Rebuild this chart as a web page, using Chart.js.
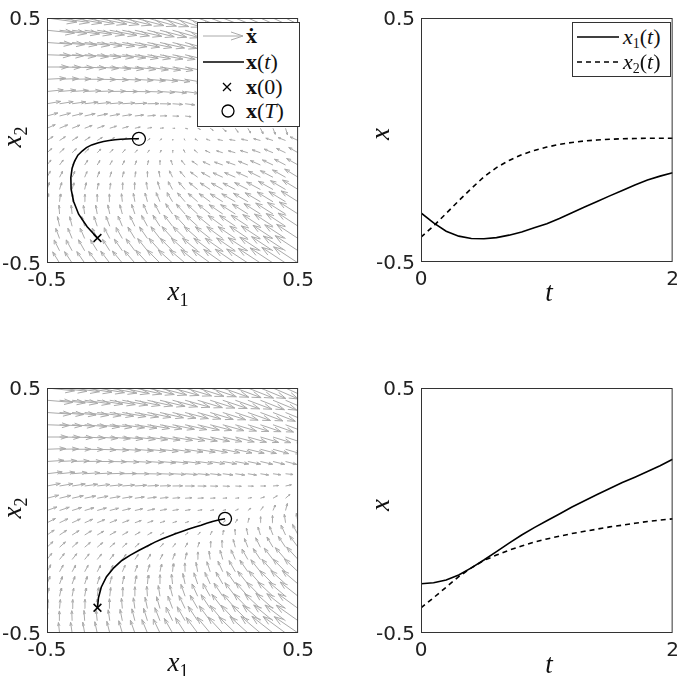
<!DOCTYPE html>
<html>
<head>
<meta charset="utf-8">
<script src="https://cdn.jsdelivr.net/npm/chart.js@4/dist/chart.umd.min.js"></script>
<style>
  body { margin: 0; background: #fff; }
  #fig { position: relative; width: 685px; height: 676px; overflow: hidden; background: #fff; }
  canvas { position: absolute; }
  .lab { position: absolute; font-family: "Liberation Serif", "DejaVu Serif", serif; font-size: 27px; color: #111; transform: translate(-50%, -50%); white-space: nowrap; line-height: 1; }
  .lab i { font-style: italic; }
  .lab sub { font-size: 18px; vertical-align: -6px; font-style: normal; }
  .rot { transform: translate(-50%, -50%) rotate(-90deg); }
  .legend { position: absolute; background: #fff; border: 1px solid #333; font-family: "Liberation Serif", "DejaVu Serif", serif; font-size: 22px; color: #111; }
  .legend .row { position: absolute; left: 0; height: 24px; line-height: 24px; white-space: nowrap; }
  .legend svg { position: absolute; top: 0; }
  .legend .txt { position: absolute; top: 0; }
  .legend sub { font-size: 14px; vertical-align: -4px; }
</style>
</head>
<body>
<div id="fig">
  <canvas id="cA" width="320" height="300" style="left:0;top:0"></canvas>
  <canvas id="cB" width="345" height="300" style="left:340px;top:0"></canvas>
  <canvas id="cC" width="320" height="306" style="left:0;top:370px"></canvas>
  <canvas id="cD" width="345" height="306" style="left:340px;top:370px"></canvas>

  <div class="lab" style="left:178px;top:293px"><i>x</i><sub>1</sub></div>
  <div class="lab rot" style="left:14px;top:137px"><i>x</i><sub>2</sub></div>
  <div class="lab" style="left:549px;top:292px"><i>t</i></div>
  <div class="lab rot" style="left:380px;top:134px"><i>x</i></div>

  <div class="lab" style="left:178px;top:664px"><i>x</i><sub>1</sub></div>
  <div class="lab rot" style="left:14px;top:508px"><i>x</i><sub>2</sub></div>
  <div class="lab" style="left:549px;top:664px"><i>t</i></div>
  <div class="lab rot" style="left:380px;top:505px"><i>x</i></div>

  <div class="legend" style="left:197px;top:22px;width:101px;height:103px">
    <div class="row" style="top:1px;width:101px">
      <svg width="48" height="24"><line x1="5" y1="12" x2="45" y2="12" stroke="#aaa" stroke-width="1"/><polyline points="33,8 45,12 33,16" fill="none" stroke="#aaa" stroke-width="1"/></svg>
      <span class="txt" style="left:48px"><b>ẋ</b></span>
    </div>
    <div class="row" style="top:27px;width:101px">
      <svg width="48" height="24"><line x1="5" y1="12" x2="46" y2="12" stroke="#000" stroke-width="1.5"/></svg>
      <span class="txt" style="left:48px"><b>x</b>(<i>t</i>)</span>
    </div>
    <div class="row" style="top:52px;width:101px">
      <svg width="48" height="24"><path d="M25,8 L33,16 M33,8 L25,16" stroke="#000" stroke-width="1.3"/></svg>
      <span class="txt" style="left:48px"><b>x</b>(0)</span>
    </div>
    <div class="row" style="top:76px;width:101px">
      <svg width="48" height="24"><circle cx="30" cy="12" r="6" fill="none" stroke="#000" stroke-width="1.3"/></svg>
      <span class="txt" style="left:48px"><b>x</b>(<i>T</i>)</span>
    </div>
  </div>

  <div class="legend" style="left:572px;top:22px;width:97px;height:53px">
    <div class="row" style="top:2px;width:97px">
      <svg width="50" height="24"><line x1="4" y1="12" x2="46" y2="12" stroke="#000" stroke-width="1.5"/></svg>
      <span class="txt" style="left:50px"><i>x</i><sub>1</sub>(<i>t</i>)</span>
    </div>
    <div class="row" style="top:27px;width:97px">
      <svg width="50" height="24"><line x1="4" y1="12" x2="46" y2="12" stroke="#000" stroke-width="1.5" stroke-dasharray="5,4"/></svg>
      <span class="txt" style="left:50px"><i>x</i><sub>2</sub>(<i>t</i>)</span>
    </div>
  </div>
</div>

<script>
// grid of the quiver plots (x1 left->right, x2 rows top->bottom use it reversed)
const GRID = [-0.5, -0.45, -0.4, -0.35, -0.3, -0.25, -0.2, -0.15, -0.1, -0.05, 0,
              0.05, 0.1, 0.15, 0.2, 0.25, 0.3, 0.35, 0.4, 0.45, 0.5];

const PHASE_TICKS = [-0.5, 0.5];
const PHASE_LABELS = ['-0.5', '0.5'];
const TIME_TICKS = [0, 2];
const TIME_LABELS = ['0', '2'];

// time samples and states
const T = [0, 0.1, 0.2, 0.3, 0.4, 0.5, 0.6, 0.7, 0.8, 0.9, 1.0,
           1.1, 1.2, 1.3, 1.4, 1.5, 1.6, 1.7, 1.8, 1.9, 2.0];

const X1_TOP = [-0.299, -0.340, -0.374, -0.394, -0.404, -0.405, -0.400, -0.390, -0.377, -0.360, -0.343,
                -0.322, -0.298, -0.275, -0.252, -0.229, -0.207, -0.184, -0.164, -0.148, -0.134];
const X2_TOP = [-0.398, -0.352, -0.301, -0.249, -0.199, -0.151, -0.113, -0.084, -0.060, -0.043, -0.029,
                -0.018, -0.010, -0.004, 0.000, 0.003, 0.005, 0.006, 0.007, 0.007, 0.007];

const X1_BOT = [-0.299, -0.295, -0.284, -0.263, -0.234, -0.202, -0.168, -0.133, -0.100, -0.070, -0.042,
                -0.014, 0.014, 0.040, 0.065, 0.090, 0.114, 0.136, 0.159, 0.183, 0.209];
const X2_BOT = [-0.397, -0.356, -0.313, -0.270, -0.234, -0.204, -0.182, -0.162, -0.145, -0.129, -0.116,
                -0.105, -0.094, -0.085, -0.076, -0.067, -0.060, -0.052, -0.045, -0.039, -0.034];

// arrow direction (deg) per grid node, rows from x2 = 0.5 down to x2 = -0.5
const ANG_TOP = [
  [-8, -9, -10, -11, -12, -13, -14, -15, -16, -17, -18, -19, -20, -21, -22, -23, -24, -25, -26, -27, -28],
  [-6, -7, -8, -9, -10, -11, -12, -13, -14, -15, -16, -17, -18, -19, -20, -21, -22, -23, -24, -25, -26],
  [-4, -5, -6, -7, -8, -9, -10, -11, -12, -13, -14, -16, -17, -18, -19, -20, -21, -22, -23, -24, -25],
  [-2, -3, -4, -5, -6, -7, -8, -9, -10, -11, -12, -14, -15, -17, -18, -19, -20, -21, -22, -23, -24],
  [0, -1, -2, -3, -4, -5, -6, -7, -8, -9, -10, -12, -14, -16, -18, -19, -20, -21, -22, -24, -26],
  [3, 2, 1, 0, -1, -2, -3, -4, -5, -6, -8, -10, -12, -14, -16, -18, -20, -22, -24, -26, -28],
  [6, 5, 4, 3, 2, 1, 0, -1, -2, -4, -6, -8, -11, -14, -17, -20, -22, -24, -27, -30, -33],
  [10, 9, 8, 7, 6, 5, 4, 3, 1, -1, -4, -7, -11, -15, -19, -23, -26, -29, -33, -37, -40],
  [16, 15, 14, 13, 12, 11, 9, 7, 5, 2, -2, -7, -13, -19, -25, -30, -35, -39, -43, -47, -50],
  [24, 23, 22, 21, 20, 18, 16, 13, 10, 5, -2, -12, -24, -36, -48, -56, -62, -66, -70, -74, -78],
  [34, 34, 33, 33, 32, 32, 32, 34, 38, 50, 80, 120, 145, 160, 168, 170, 168, 165, 162, 158, 155],
  [42, 43, 44, 45, 46, 47, 48, 50, 55, 65, 85, 115, 140, 155, 162, 164, 163, 160, 157, 154, 150],
  [52, 54, 56, 58, 60, 62, 65, 70, 78, 90, 108, 128, 145, 155, 160, 160, 158, 156, 154, 152, 150],
  [62, 64, 66, 68, 70, 73, 77, 82, 90, 100, 115, 130, 143, 150, 155, 156, 155, 153, 152, 150, 148],
  [72, 74, 76, 78, 80, 83, 87, 92, 98, 106, 118, 130, 140, 146, 150, 152, 152, 151, 150, 149, 148],
  [82, 84, 86, 88, 90, 93, 96, 100, 105, 112, 120, 130, 138, 143, 147, 149, 149, 149, 148, 148, 147],
  [92, 94, 96, 98, 100, 102, 105, 108, 112, 117, 123, 131, 137, 141, 145, 147, 147, 147, 147, 147, 147],
  [100, 102, 104, 106, 108, 110, 112, 115, 118, 122, 127, 132, 137, 140, 143, 145, 146, 146, 146, 146, 146],
  [108, 110, 112, 113, 115, 117, 119, 121, 124, 127, 131, 135, 138, 141, 143, 145, 145, 146, 146, 146, 146],
  [115, 116, 118, 119, 121, 122, 124, 126, 128, 131, 134, 137, 140, 142, 144, 145, 146, 146, 146, 146, 146],
  [120, 121, 123, 124, 126, 127, 129, 130, 132, 134, 137, 139, 141, 143, 144, 145, 146, 146, 146, 146, 146]
];

// arrow length per grid node, in hundredths of an axis unit
const LEN_TOP = [
  [12, 12, 12, 12, 12, 12, 12, 12, 12, 12, 12, 12, 12, 12, 12, 12, 12, 12, 12, 12, 12],
  [11, 11, 11, 11, 11, 11, 11, 11, 11, 11, 11, 11, 11, 11, 11, 11, 11, 11, 11, 11, 11],
  [10, 10, 10, 10, 10, 10, 10, 10, 10, 10, 10, 10, 10, 10, 10, 10, 10, 10, 10, 10, 10],
  [9.5, 9.5, 9.5, 9.5, 9.5, 9.5, 9.4, 9.4, 9.3, 9.3, 9.2, 9.2, 9.1, 9.1, 9, 9, 9, 9, 9, 9, 9],
  [8.5, 8.5, 8.5, 8.5, 8.5, 8.5, 8.5, 8.4, 8.4, 8.3, 8.3, 8.2, 8.2, 8.2, 8.2, 8.2, 8.2, 8.3, 8.4, 8.5, 8.5],
  [7.5, 7.5, 7.5, 7.5, 7.5, 7.4, 7.4, 7.3, 7.2, 7.1, 7, 6.9, 6.9, 6.9, 6.9, 7, 7.1, 7.2, 7.3, 7.4, 7.5],
  [6.5, 6.5, 6.5, 6.4, 6.4, 6.3, 6.2, 6.1, 6, 5.8, 5.6, 5.5, 5.4, 5.4, 5.5, 5.6, 5.7, 5.8, 5.9, 6, 6],
  [5.5, 5.5, 5.5, 5.4, 5.3, 5.2, 5, 4.8, 4.6, 4.3, 4, 3.9, 3.9, 4, 4.1, 4.3, 4.5, 4.7, 4.8, 4.9, 5],
  [4.5, 4.5, 4.4, 4.3, 4.2, 4, 3.8, 3.5, 3.2, 2.8, 2.5, 2.4, 2.4, 2.5, 2.7, 2.9, 3.1, 3.3, 3.5, 3.7, 4],
  [3.6, 3.5, 3.4, 3.2, 3, 2.8, 2.5, 2.2, 1.8, 1.4, 1, 1, 1.2, 1.5, 1.8, 2, 2.2, 2.4, 2.6, 2.8, 3],
  [2.9, 2.8, 2.7, 2.6, 2.4, 2.2, 2, 1.7, 1.3, 0.9, 0.6, 0.8, 1.2, 1.6, 2, 2.3, 2.6, 2.8, 3, 3.2, 3.5],
  [2.6, 2.5, 2.4, 2.3, 2.1, 1.9, 1.7, 1.5, 1.3, 1.1, 1.1, 1.4, 1.8, 2.2, 2.6, 2.9, 3.2, 3.5, 3.8, 4, 4.3],
  [2.6, 2.5, 2.4, 2.3, 2.1, 2, 1.9, 1.8, 1.8, 1.9, 2.1, 2.4, 2.8, 3.2, 3.5, 3.8, 4.1, 4.4, 4.7, 5, 5.3],
  [2.8, 2.7, 2.6, 2.5, 2.4, 2.3, 2.3, 2.3, 2.4, 2.6, 2.9, 3.2, 3.6, 4, 4.3, 4.7, 5, 5.4, 5.7, 6, 6.3],
  [3, 2.9, 2.8, 2.8, 2.7, 2.7, 2.8, 2.9, 3.1, 3.3, 3.6, 4, 4.4, 4.8, 5.2, 5.6, 6, 6.3, 6.7, 7, 7.3],
  [3.3, 3.2, 3.2, 3.1, 3.1, 3.2, 3.3, 3.5, 3.7, 4, 4.3, 4.7, 5.1, 5.5, 5.9, 6.3, 6.7, 7.1, 7.5, 7.8, 8.1],
  [3.6, 3.6, 3.6, 3.6, 3.7, 3.8, 3.9, 4.1, 4.4, 4.7, 5, 5.4, 5.8, 6.2, 6.6, 7, 7.4, 7.8, 8.2, 8.6, 9],
  [4, 4, 4, 4.1, 4.2, 4.3, 4.5, 4.7, 5, 5.3, 5.7, 6.1, 6.5, 6.9, 7.3, 7.7, 8.1, 8.5, 8.9, 9.3, 9.6],
  [4.4, 4.4, 4.5, 4.6, 4.7, 4.9, 5.1, 5.4, 5.7, 6, 6.4, 6.8, 7.2, 7.6, 8, 8.4, 8.8, 9.2, 9.6, 10, 10.3],
  [4.8, 4.9, 5, 5.1, 5.3, 5.5, 5.7, 6, 6.3, 6.7, 7.1, 7.5, 7.9, 8.3, 8.7, 9.1, 9.5, 9.9, 10.3, 10.7, 11],
  [5.2, 5.3, 5.5, 5.6, 5.8, 6, 6.3, 6.6, 7, 7.4, 7.8, 8.2, 8.6, 9, 9.4, 9.8, 10.2, 10.6, 11, 11.4, 11.8]
];

const ANG_BOT = [
  [-6, -7, -8, -9, -10, -11, -12, -13, -14, -15, -16, -17, -18, -19, -20, -21, -22, -23, -24, -25, -26],
  [-5, -6, -7, -8, -9, -10, -11, -12, -13, -14, -15, -16, -17, -18, -19, -20, -21, -22, -23, -24, -25],
  [-4, -5, -6, -7, -8, -9, -10, -11, -12, -13, -14, -15, -16, -17, -18, -19, -20, -21, -22, -23, -24],
  [-2, -3, -4, -5, -6, -7, -8, -9, -10, -11, -12, -13, -14, -15, -16, -17, -18, -19, -20, -21, -22],
  [0, -1, -2, -3, -4, -5, -6, -7, -8, -9, -10, -11, -12, -13, -14, -15, -16, -17, -18, -19, -20],
  [2, 1, 0, -1, -2, -3, -4, -5, -6, -7, -8, -9, -10, -11, -12, -13, -14, -15, -16, -17, -18],
  [4, 3, 2, 1, 0, -1, -2, -3, -4, -5, -6, -7, -8, -9, -10, -11, -12, -13, -14, -15, -15],
  [7, 6, 5, 4, 3, 2, 1, 0, -1, -2, -3, -4, -5, -6, -7, -8, -9, -9, -8, -6, -4],
  [11, 10, 9, 8, 7, 6, 5, 4, 3, 2, 1, 0, -1, -2, -3, -3, -2, 0, 5, 12, 20],
  [15, 14, 13, 12, 11, 10, 9, 8, 7, 6, 5, 4, 3, 3, 4, 6, 10, 18, 30, 42, 55],
  [20, 19, 18, 17, 16, 15, 14, 13, 12, 11, 10, 10, 10, 12, 16, 24, 38, 55, 68, 76, 82],
  [27, 26, 25, 24, 23, 22, 21, 20, 19, 18, 18, 19, 22, 28, 40, 60, 78, 88, 94, 98, 100],
  [35, 34, 33, 32, 31, 30, 30, 30, 30, 31, 33, 38, 48, 65, 82, 94, 102, 107, 111, 114, 117],
  [44, 43, 42, 41, 41, 41, 42, 43, 45, 48, 53, 61, 72, 85, 96, 105, 111, 116, 120, 123, 126],
  [53, 52, 52, 52, 52, 53, 55, 57, 60, 64, 70, 78, 88, 98, 106, 113, 119, 123, 127, 130, 132],
  [62, 62, 62, 62, 63, 65, 67, 70, 74, 79, 85, 92, 100, 108, 114, 119, 124, 128, 131, 134, 136],
  [70, 70, 71, 72, 73, 75, 78, 81, 85, 90, 96, 102, 108, 114, 119, 124, 128, 131, 134, 137, 139],
  [77, 78, 79, 80, 82, 84, 87, 90, 94, 99, 104, 109, 114, 119, 123, 127, 131, 134, 136, 139, 141],
  [84, 85, 86, 88, 90, 92, 95, 98, 102, 106, 110, 115, 119, 123, 127, 130, 133, 136, 138, 141, 143],
  [90, 91, 92, 94, 96, 98, 101, 104, 107, 111, 115, 119, 123, 126, 129, 132, 135, 138, 140, 142, 144],
  [95, 96, 98, 100, 102, 104, 106, 109, 112, 115, 119, 122, 126, 129, 132, 135, 137, 139, 141, 143, 145]
];

const LEN_BOT = [
  [11, 11, 11, 11, 11, 11, 11, 11, 11, 11, 11, 11, 11, 11, 11, 11, 11, 11, 11, 11, 11],
  [10.3, 10.3, 10.3, 10.3, 10.3, 10.3, 10.3, 10.3, 10.3, 10.3, 10.3, 10.3, 10.3, 10.3, 10.3, 10.3, 10.3, 10.3, 10.3, 10.3, 10.3],
  [9.6, 9.6, 9.6, 9.6, 9.6, 9.6, 9.6, 9.6, 9.6, 9.6, 9.6, 9.6, 9.6, 9.6, 9.6, 9.6, 9.6, 9.6, 9.6, 9.6, 9.6],
  [8.9, 8.9, 8.9, 8.9, 8.9, 8.9, 8.9, 8.9, 8.9, 8.9, 8.9, 8.9, 8.9, 8.9, 8.8, 8.8, 8.8, 8.7, 8.7, 8.6, 8.6],
  [8.2, 8.2, 8.2, 8.2, 8.2, 8.2, 8.2, 8.2, 8.1, 8.1, 8.1, 8, 8, 7.9, 7.9, 7.8, 7.7, 7.6, 7.5, 7.4, 7.3],
  [7.5, 7.5, 7.5, 7.5, 7.5, 7.5, 7.4, 7.4, 7.3, 7.3, 7.2, 7.2, 7.1, 7, 6.9, 6.8, 6.7, 6.6, 6.5, 6.4, 6.3],
  [6.8, 6.8, 6.8, 6.7, 6.7, 6.6, 6.6, 6.5, 6.4, 6.3, 6.2, 6.1, 6, 5.8, 5.6, 5.4, 5.2, 5, 4.8, 4.6, 4.4],
  [6.1, 6.1, 6, 6, 5.9, 5.8, 5.7, 5.6, 5.5, 5.3, 5.1, 4.9, 4.7, 4.4, 4.1, 3.8, 3.5, 3.3, 3.1, 3, 3],
  [5.4, 5.4, 5.3, 5.2, 5.1, 5, 4.9, 4.7, 4.5, 4.3, 4, 3.7, 3.4, 3.1, 2.7, 2.4, 2.2, 2.1, 2.2, 2.4, 2.7],
  [4.8, 4.7, 4.6, 4.5, 4.4, 4.2, 4, 3.8, 3.6, 3.3, 3, 2.7, 2.3, 2, 1.7, 1.5, 1.5, 1.7, 2, 2.4, 2.8],
  [4.2, 4.1, 4, 3.9, 3.8, 3.6, 3.4, 3.2, 3, 2.7, 2.4, 2.1, 1.8, 1.5, 1.3, 1.3, 1.5, 1.9, 2.4, 2.9, 3.3],
  [3.8, 3.7, 3.6, 3.5, 3.3, 3.1, 2.9, 2.7, 2.4, 2.1, 1.8, 1.5, 1.3, 1.2, 1.3, 1.6, 2, 2.5, 3, 3.5, 4],
  [3.5, 3.4, 3.3, 3.2, 3, 2.8, 2.6, 2.4, 2.1, 1.8, 1.6, 1.5, 1.5, 1.7, 2, 2.4, 2.9, 3.4, 3.9, 4.4, 4.9],
  [3.3, 3.2, 3.1, 3, 2.9, 2.7, 2.5, 2.3, 2.1, 2, 1.9, 2, 2.2, 2.5, 2.9, 3.3, 3.8, 4.3, 4.8, 5.3, 5.8],
  [3.2, 3.1, 3, 2.9, 2.8, 2.7, 2.6, 2.5, 2.5, 2.5, 2.6, 2.8, 3.1, 3.5, 3.9, 4.3, 4.8, 5.3, 5.8, 6.3, 6.8],
  [3.2, 3.1, 3, 3, 2.9, 2.9, 2.9, 2.9, 3, 3.1, 3.3, 3.6, 3.9, 4.3, 4.7, 5.2, 5.7, 6.2, 6.7, 7.2, 7.6],
  [3.3, 3.2, 3.2, 3.2, 3.2, 3.2, 3.3, 3.4, 3.6, 3.8, 4.1, 4.4, 4.8, 5.2, 5.6, 6.1, 6.6, 7.1, 7.6, 8, 8.4],
  [3.5, 3.4, 3.4, 3.4, 3.5, 3.6, 3.7, 3.9, 4.1, 4.4, 4.7, 5.1, 5.5, 5.9, 6.4, 6.9, 7.4, 7.9, 8.4, 8.8, 9.2],
  [3.7, 3.7, 3.7, 3.8, 3.9, 4, 4.2, 4.4, 4.7, 5, 5.4, 5.8, 6.2, 6.7, 7.2, 7.7, 8.2, 8.7, 9.2, 9.6, 10],
  [4, 4, 4.1, 4.2, 4.3, 4.5, 4.7, 5, 5.3, 5.7, 6.1, 6.5, 7, 7.5, 8, 8.5, 9, 9.5, 10, 10.4, 10.8],
  [4.3, 4.3, 4.4, 4.5, 4.7, 4.9, 5.2, 5.5, 5.9, 6.3, 6.8, 7.3, 7.8, 8.3, 8.8, 9.3, 9.8, 10.3, 10.8, 11.2, 11.6]
];

const TICK_FONT = { family: 'DejaVu Sans', size: 20 };
const AXIS_COLOR = '#333';

// shaft + head as broken polyline, gaps are null points
function quiverData(ang, len) {
  const pts = [];
  ang.forEach((row, j) => {
    const y0 = GRID[GRID.length - 1 - j];
    row.forEach((a, i) => {
      const x0 = GRID[i];
      const r = a * Math.PI / 180;
      const L = len[j][i] / 100;
      const ux = Math.cos(r), uy = Math.sin(r);
      const xt = x0 + L * ux, yt = y0 + L * uy;
      const bx = xt - 0.33 * L * ux, by = yt - 0.33 * L * uy;
      const sx = -uy * 0.11 * L, sy = ux * 0.11 * L;
      pts.push({ x: x0, y: y0 }, { x: xt, y: yt }, { x: null, y: null },
               { x: bx + sx, y: by + sy }, { x: xt, y: yt }, { x: bx - sx, y: by - sy },
               { x: null, y: null });
    });
  });
  return pts;
}

const boxPlugin = {
  id: 'box',
  afterDraw(chart) {
    const a = chart.chartArea, ctx = chart.ctx;
    ctx.save();
    ctx.strokeStyle = AXIS_COLOR;
    ctx.lineWidth = 1;
    ctx.strokeRect(a.left + 0.5, a.top + 0.5, a.right - a.left - 1, a.bottom - a.top - 1);
    ctx.restore();
  }
};

function axis(min, max, ticks, labels, fit, extra) {
  return Object.assign({
    type: 'linear', min, max,
    grid: { display: false, drawTicks: false },
    border: { display: false },
    afterBuildTicks: ax => { ax.ticks = ticks.map(v => ({ value: v })); },
    afterFit: fit,
    ticks: {
      font: TICK_FONT, color: '#222', padding: 6, autoSkip: false, maxRotation: 0,
      callback: v => labels[ticks.indexOf(v)]
    }
  }, extra || {});
}

function makeChart(id, datasets, xTicks, xLabels, xMax, dims) {
  new Chart(document.getElementById(id), {
    type: 'scatter',
    data: { datasets },
    options: {
      responsive: false, animation: false, events: [],
      layout: { padding: { top: dims.top, right: dims.right, left: 0, bottom: 0 } },
      plugins: { legend: { display: false }, tooltip: { enabled: false } },
      scales: {
        x: axis(xTicks[0], xMax, xTicks, xLabels, ax => { ax.height = dims.xh; }),
        y: axis(-0.5, 0.5, PHASE_TICKS, PHASE_LABELS, ax => { ax.width = dims.yw; },
                { ticks: { font: TICK_FONT, color: '#222', padding: 6, autoSkip: false,
                           labelOffset: 2, callback: v => PHASE_LABELS[PHASE_TICKS.indexOf(v)] } })
      }
    },
    plugins: [boxPlugin]
  });
}

function phaseSets(x1, x2, ang, len) {
  const n = x1.length - 1;
  return [
    { data: [{ x: x1[n], y: x2[n] }], pointStyle: 'circle', pointRadius: 6.5,
      borderColor: '#000', backgroundColor: 'rgba(0,0,0,0)', pointBorderWidth: 1.3 },
    { data: [{ x: x1[0], y: x2[0] }], pointStyle: 'crossRot', pointRadius: 5.5,
      borderColor: '#000', pointBorderWidth: 1.5 },
    { data: x1.map((v, k) => ({ x: v, y: x2[k] })), showLine: true, pointRadius: 0,
      borderColor: '#000', borderWidth: 1.6 },
    { data: quiverData(ang, len), showLine: true, spanGaps: false, pointRadius: 0,
      borderColor: '#aaa', borderWidth: 1 }
  ];
}

function timeSets(x1, x2) {
  return [
    { data: T.map((t, k) => ({ x: t, y: x1[k] })), showLine: true, pointRadius: 0,
      borderColor: '#000', borderWidth: 1.6 },
    { data: T.map((t, k) => ({ x: t, y: x2[k] })), showLine: true, pointRadius: 0,
      borderColor: '#000', borderWidth: 1.6, borderDash: [5, 4] }
  ];
}

makeChart('cA', phaseSets(X1_TOP, X2_TOP, ANG_TOP, LEN_TOP), PHASE_TICKS, PHASE_LABELS, 0.5,
  { top: 11, right: 17, yw: 47, xh: 37 });
makeChart('cB', timeSets(X1_TOP, X2_TOP), TIME_TICKS, TIME_LABELS, 2,
  { top: 10, right: 7, yw: 81, xh: 38 });
makeChart('cC', phaseSets(X1_BOT, X2_BOT, ANG_BOT, LEN_BOT), PHASE_TICKS, PHASE_LABELS, 0.5,
  { top: 13, right: 17, yw: 47, xh: 43 });
makeChart('cD', timeSets(X1_BOT, X2_BOT), TIME_TICKS, TIME_LABELS, 2,
  { top: 12, right: 7, yw: 81, xh: 43 });
</script>
</body>
</html>
